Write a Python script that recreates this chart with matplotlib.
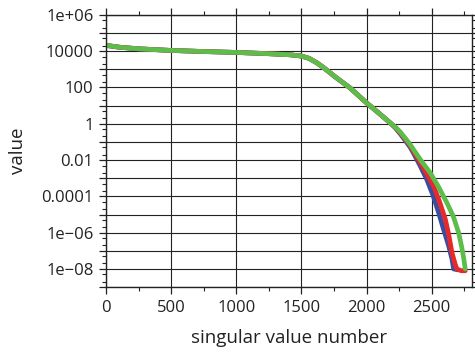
import matplotlib
matplotlib.use('Agg')
import matplotlib.pyplot as plt
from matplotlib.ticker import LogLocator, FixedLocator, MultipleLocator, FuncFormatter
import numpy as np

# shared head of the spectrum (all three runs overlap here), log10 of value
head_x = [0, 100, 250, 500, 750, 1000, 1250, 1413, 1500, 1560, 1620, 1669, 1760, 1874, 2000, 2100, 2181]
head_log = [4.32, 4.22, 4.13, 4.04, 3.98, 3.93, 3.86, 3.80, 3.73, 3.60, 3.35, 3.10, 2.58, 1.97, 1.15, 0.55, 0.05]

# tails where the runs separate
blue_x = [2220, 2258, 2300, 2335, 2360, 2410, 2462, 2510, 2553, 2590, 2630, 2655, 2668, 2700]
blue_log = [-0.22, -0.55, -0.95, -1.30, -1.62, -2.30, -3.07, -3.95, -4.90, -5.80, -6.73, -7.45, -8.0, -8.05]

red_x = [2220, 2258, 2300, 2335, 2412, 2460, 2514, 2560, 2604, 2630, 2655, 2680, 2693, 2725, 2757]
red_log = [-0.20, -0.50, -0.88, -1.22, -2.15, -2.75, -3.43, -4.30, -5.26, -6.10, -7.10, -7.75, -8.0, -8.10, -8.10]

green_x = [2220, 2258, 2300, 2335, 2360, 2420, 2488, 2550, 2616, 2665, 2706, 2730, 2745, 2757]
green_log = [-0.18, -0.45, -0.82, -1.15, -1.42, -2.05, -2.70, -3.45, -4.35, -5.10, -6.00, -6.80, -7.40, -8.0]

colors = ['#3a4da0', '#e62a2c', '#5dbd4b']

ytick_exp = list(range(-9, 7))

plt.rcParams['font.family'] = ['Open Sans', 'DejaVu Sans']

fig = plt.figure(figsize=(4.75, 3.54), dpi=100)
ax = fig.add_axes([0.223, 0.189, 0.771, 0.769])

for tx, tl, c in zip([blue_x, red_x, green_x], [blue_log, red_log, green_log], colors):
    xs = np.array(head_x + tx)
    ys = 10.0 ** np.array(head_log + tl)
    ax.plot(xs, ys, color=c, lw=3.4, solid_capstyle='round', solid_joinstyle='round')

ax.set_yscale('log')
ax.set_xlim(0, 2810)
ax.set_ylim(1e-9, 1e6)

ax.xaxis.set_major_locator(MultipleLocator(500))
ax.xaxis.set_minor_locator(MultipleLocator(250))
ax.yaxis.set_major_locator(FixedLocator([10.0 ** e for e in ytick_exp]))
ax.yaxis.set_minor_locator(LogLocator(base=10, subs=(2.0, 5.0), numticks=40))


def ylab(v, pos):
    e = int(round(np.log10(v)))
    if e % 2 or e < -8:
        return ''
    if e >= 6:
        return '1e+%02d' % e
    if e <= -6:
        return '1e\u2212%02d' % -e
    return '%g' % v


ax.yaxis.set_major_formatter(FuncFormatter(ylab))
ax.yaxis.set_minor_formatter(FuncFormatter(lambda v, p: ''))

ax.grid(True, which='major', color='#222222', lw=0.8)
ax.tick_params(which='both', direction='out', top=True, right=True,
               labelsize=12, colors='#222222')
ax.tick_params(which='major', length=5, width=0.9, pad=4)
ax.tick_params(which='minor', length=3, width=0.8)
for s in ax.spines.values():
    s.set_linewidth(1.0)
    s.set_color('#222222')

ax.set_xlabel('singular value number', fontsize=13.5, color='#222222', labelpad=10)
ax.set_ylabel('value', fontsize=13.5, color='#222222', labelpad=10)

fig.savefig('out.png', dpi=100)
